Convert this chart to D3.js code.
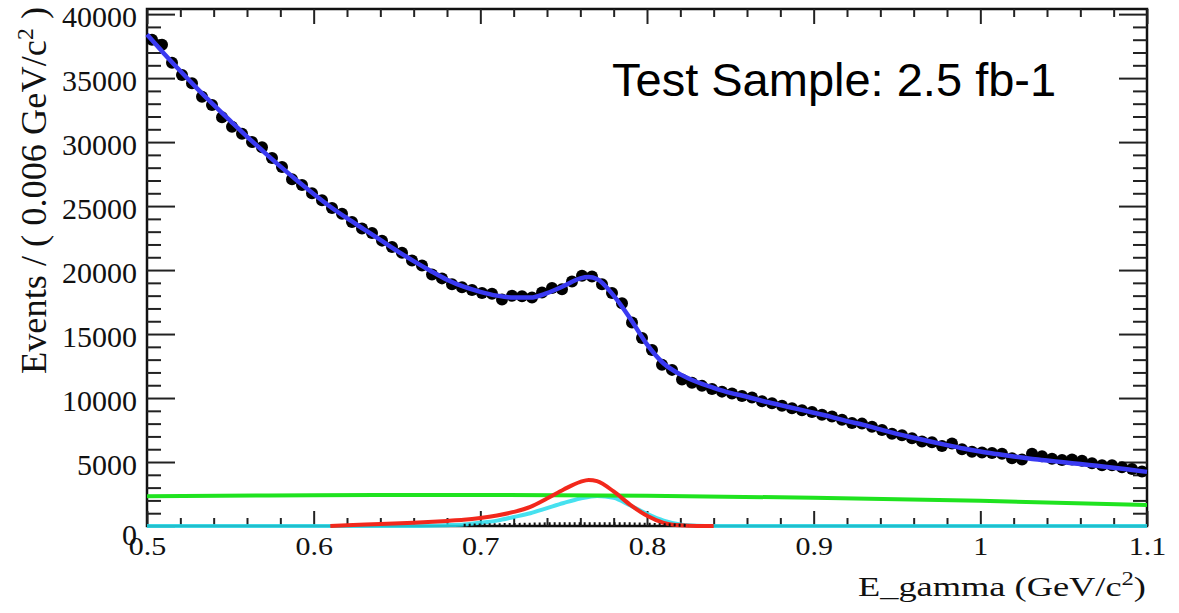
<!DOCTYPE html>
<html><head><meta charset="utf-8">
<script src="https://cdn.jsdelivr.net/npm/d3@7"></script>
<style>html,body{margin:0;padding:0;background:#fff;} svg{display:block}</style>
</head><body>
<svg id="c" width="1179" height="613"></svg>
<script>
// ---------------- DATA ----------------
const binStart = 0.5, binWidth = 0.006, nBins = 100;
const events = [
38000, 37600, 36200, 35250, 34600, 33550, 32900, 31950, 31200, 30650,
30000, 29600, 28750, 28050, 27100, 26650, 26000, 25450, 24850, 24400,
23750, 23250, 22900, 22300, 21800, 21350, 20750, 20350, 19650, 19350,
18900, 18650, 18450, 18200, 18150, 17700, 18000, 17950, 17850, 18250,
18600, 18500, 19100, 19550, 19500, 18900, 18200, 17400, 15900, 14700,
13750, 12600, 12200, 11450, 11200, 10950, 10700, 10500, 10350, 10150,
10050, 9750, 9600, 9400, 9200, 9050, 8900, 8700, 8550, 8300,
8050, 8000, 7750, 7500, 7200, 7100, 6850, 6600, 6550, 6250,
6450, 6000, 5800, 5750, 5700, 5650, 5300, 5200, 5650, 5450,
5250, 5150, 5200, 5100, 4900, 4750, 4750, 4600, 4450, 4250];

// total fit (blue)
const fitX = [0.50,0.51,0.52,0.53,0.54,0.55,0.56,0.57,0.58,0.59,0.60,0.61,0.62,0.63,0.64,0.65,0.66,0.67,0.68,0.69,
              0.70,0.71,0.72,0.73,0.74,0.75,0.76,0.765,0.77,0.78,0.79,0.80,0.81,0.82,0.83,0.84,0.85,0.86,0.87,0.88,0.89,
              0.90,0.91,0.92,0.93,0.94,0.95,0.96,0.97,0.98,0.99,1.00,1.01,1.02,1.03,1.04,1.05,1.06,1.07,1.08,1.09,1.10];
const fitY = [38400,36950,35550,34200,32900,31650,30420,29250,28100,27000,25950,24950,24050,23200,22350,21500,20700,19950,19250,18700,
              18300,18000,17850,17850,18200,18750,19350,19450,19300,18000,16200,14200,12700,11850,11250,10800,10400,10100,9750,9450,9150,
              8850,8550,8200,7900,7550,7200,6900,6600,6320,6050,5820,5620,5430,5260,5120,4980,4840,4700,4560,4400,4230];

// background component (green)
const bkgX = [0.5, 0.6, 0.7, 0.8, 0.9, 1.0, 1.1];
const bkgY = [2330, 2400, 2430, 2360, 2210, 1970, 1650];

// peaking component (red)
const redX = [0.61,0.62,0.64,0.66,0.68,0.69,0.70,0.71,0.72,0.73,0.74,0.75,0.76,0.765,0.77,0.78,0.79,0.80,0.81,0.82,0.83,0.84];
const redY = [0,   60,  150, 260, 400, 480, 620, 820, 1100,1500,2150,2850,3450,3600, 3500,2700,1650,800, 250, 50,  0,   0];

// peaking component (cyan)
const cyanX = [0.5,0.66,0.68,0.69,0.70,0.71,0.72,0.73,0.74,0.75,0.76,0.77,0.78,0.79,0.80,0.81,0.82,0.83,0.84,1.1];
const cyanY = [0,  0,   60,  120, 250, 420, 700, 1000,1400,1800,2150,2350,2200,1600,950, 420, 120, 20,  0,   0];

// small dotted component near zero (black)
const dotX = [0.69,0.72,0.75,0.78,0.81,0.825];
const dotY = [60, 120, 180, 180, 100, 40];

const xMajorTicks = [0.5,0.6,0.7,0.8,0.9,1.0,1.1];
const xTickLabels = ["0.5","0.6","0.7","0.8","0.9","1","1.1"];
const yMajorTicks = [0,5000,10000,15000,20000,25000,30000,35000,40000];
const yTickLabels = ["0","5000","10000","15000","20000","25000","30000","35000","40000"];

// ---------------- CHART ----------------
const svg = d3.select('#c');
const L = 147, R = 1147, T = 9, B = 526;
const x = d3.scaleLinear().domain([0.5, 1.1]).range([L, R]);
const y = d3.scaleLinear().domain([0, 40400]).range([B, T]);

const xMinor = d3.range(0.52, 1.1, 0.02).filter(v => Math.abs(v*10 - Math.round(v*10)) > 1e-6);
const yMinor = d3.range(1000, 40400, 1000).filter(v => v % 5000 !== 0);

const tickCol = '#222';
function styleAxis(g){
  g.select('.domain').remove();
  g.selectAll('line').attr('stroke', tickCol).attr('stroke-width', 2);
}

// frame
svg.append('rect').attr('x', L).attr('y', T).attr('width', R - L).attr('height', B - T)
  .attr('fill', 'none').attr('stroke', '#111').attr('stroke-width', 2.5);

// bottom axis
const gB = svg.append('g').attr('transform', `translate(0,${B})`)
  .call(d3.axisBottom(x).tickValues(xMajorTicks).tickSizeInner(-15).tickSizeOuter(0).tickPadding(11)
        .tickFormat((d,i) => xTickLabels[i]));
styleAxis(gB);
gB.attr('font-family', '"Liberation Serif", "Times New Roman", serif').attr('font-size', 25);
gB.selectAll('text').attr('fill', '#111').each(function(){
  const w = this.getComputedTextLength();
  d3.select(this).attr('textLength', w * 1.2).attr('lengthAdjust', 'spacingAndGlyphs');
});
const gBm = svg.append('g').attr('transform', `translate(0,${B})`)
  .call(d3.axisBottom(x).tickValues(xMinor).tickSizeInner(-8).tickSizeOuter(0).tickFormat(''));
styleAxis(gBm);

// top axis
const gT = svg.append('g').attr('transform', `translate(0,${T})`)
  .call(d3.axisTop(x).tickValues(xMajorTicks).tickSizeInner(-15).tickSizeOuter(0).tickFormat(''));
styleAxis(gT);
const gTm = svg.append('g').attr('transform', `translate(0,${T})`)
  .call(d3.axisTop(x).tickValues(xMinor).tickSizeInner(-8).tickSizeOuter(0).tickFormat(''));
styleAxis(gTm);

// left axis
const gL = svg.append('g').attr('transform', `translate(${L},0)`)
  .call(d3.axisLeft(y).tickValues(yMajorTicks).tickSizeInner(-28).tickSizeOuter(0).tickPadding(10)
        .tickFormat((d,i) => yTickLabels[i]));
styleAxis(gL);
gL.attr('font-family', '"Liberation Serif", "Times New Roman", serif').attr('font-size', 30);
gL.selectAll('text').attr('fill', '#111').attr('dy', (d) => d === 0 ? '0.62em' : '0.42em');
const gLm = svg.append('g').attr('transform', `translate(${L},0)`)
  .call(d3.axisLeft(y).tickValues(yMinor).tickSizeInner(-14).tickSizeOuter(0).tickFormat(''));
styleAxis(gLm);

// right axis
const gR = svg.append('g').attr('transform', `translate(${R},0)`)
  .call(d3.axisRight(y).tickValues(yMajorTicks).tickSizeInner(-28).tickSizeOuter(0).tickFormat(''));
styleAxis(gR);
const gRm = svg.append('g').attr('transform', `translate(${R},0)`)
  .call(d3.axisRight(y).tickValues(yMinor).tickSizeInner(-14).tickSizeOuter(0).tickFormat(''));
styleAxis(gRm);

// curves
const line = d3.line().x(d => x(d[0])).y(d => y(d[1])).curve(d3.curveMonotoneX);
const zip = (a, b) => a.map((v, i) => [v, b[i]]);

svg.append('path').datum(zip(cyanX, cyanY)).attr('d', line)
  .attr('fill', 'none').attr('stroke', '#26dcec').attr('stroke-width', 4).attr('stroke-opacity', 0.85);
svg.append('path').datum(zip(bkgX, bkgY)).attr('d', line)
  .attr('fill', 'none').attr('stroke', '#1fe31f').attr('stroke-width', 4);
svg.append('path').datum(zip(redX, redY)).attr('d', line)
  .attr('fill', 'none').attr('stroke', '#f2281c').attr('stroke-width', 4);
svg.append('path').datum(zip(dotX, dotY)).attr('d', line)
  .attr('fill', 'none').attr('stroke', '#111').attr('stroke-width', 3).attr('stroke-dasharray', '2,3');

// data points
const pts = events.map((v, i) => [binStart + binWidth * (i + 0.5), v]);
svg.append('g').selectAll('circle').data(pts).join('circle')
  .attr('cx', d => x(d[0])).attr('cy', d => y(d[1])).attr('r', 6).attr('fill', '#000');

// total fit
svg.append('path').datum(zip(fitX, fitY)).attr('d', line)
  .attr('fill', 'none').attr('stroke', '#3a3af2').attr('stroke-width', 4.5);

// y title
const yt = svg.append('text')
  .attr('transform', 'translate(46,7) rotate(-90)')
  .attr('text-anchor', 'end')
  .attr('font-family', '"Liberation Serif", "Times New Roman", serif')
  .attr('font-size', 35).attr('fill', '#111')
  .attr('textLength', 367).attr('lengthAdjust', 'spacingAndGlyphs');
yt.append('tspan').text('Events / ( 0.006 GeV/c');
yt.append('tspan').attr('dy', -13).attr('font-size', 23).text('2');
yt.append('tspan').attr('dy', 13).text(' )');

// x title
const xt = svg.append('text')
  .attr('x', 1146).attr('y', 596)
  .attr('text-anchor', 'end')
  .attr('font-family', '"Liberation Serif", "Times New Roman", serif')
  .attr('font-size', 28).attr('fill', '#111')
  .attr('textLength', 288).attr('lengthAdjust', 'spacingAndGlyphs');
xt.append('tspan').text('E_gamma (GeV/c');
xt.append('tspan').attr('dy', -11).attr('font-size', 19).text('2');
xt.append('tspan').attr('dy', 11).text(')');

// annotation
svg.append('text').attr('x', 612).attr('y', 96)
  .attr('font-family', '"Liberation Sans", Arial, sans-serif')
  .attr('font-size', 47).attr('fill', '#000')
  .text('Test Sample: 2.5 fb-1');
</script>
</body></html>
